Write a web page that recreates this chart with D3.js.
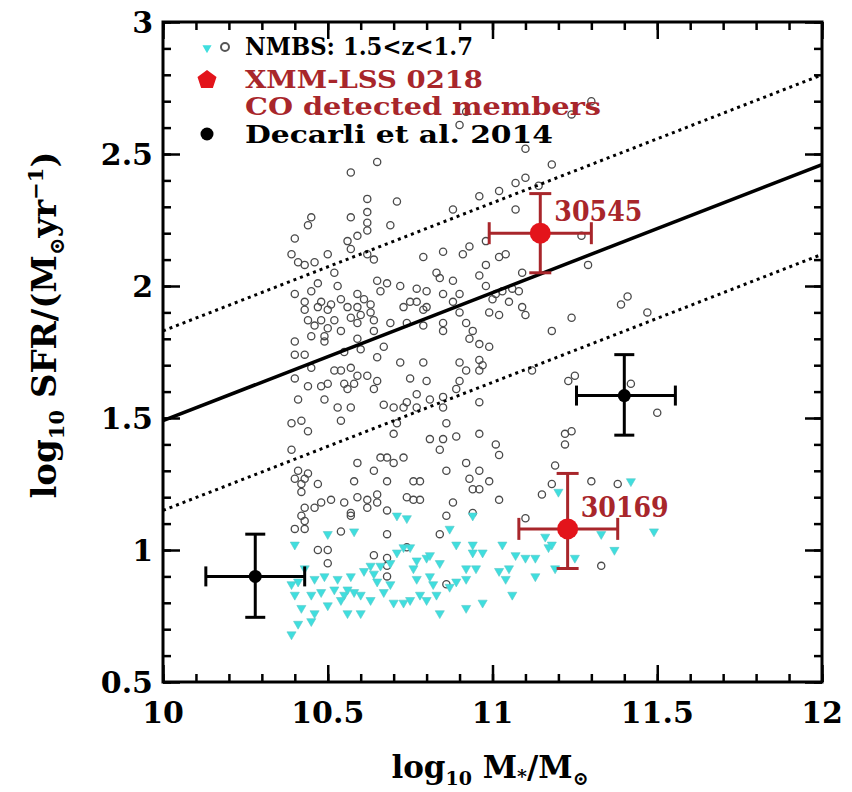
<!DOCTYPE html>
<html>
<head>
<meta charset="utf-8">
<script src="https://cdn.jsdelivr.net/npm/d3@7"></script>
<style>
  body { margin: 0; background: #fff; }
  text { font-family: "DejaVu Serif", "Liberation Serif", serif; font-weight: bold; }
</style>
</head>
<body>
<script>
// NMBS 1.5<z<1.7 galaxies, open grey circles (log M*, log SFR)
var nmbsCircles = [
  [10.62,2.33],[10.71,2.32],[10.62,2.28],[10.45,2.26],[10.57,2.26],[10.44,2.23],[10.62,2.24],[10.69,2.23],
  [10.40,2.18],[10.56,2.17],[10.59,2.19],[10.62,2.21],[10.50,2.12],[10.39,2.12],[10.57,2.14],[10.41,2.09],
  [10.43,2.08],[10.46,2.09],[10.62,2.12],[10.64,2.10],[10.52,2.05],[10.47,2.01],[10.40,1.97],[10.45,1.98],
  [10.53,2.00],[10.65,2.02],[10.68,2.01],[10.72,2.00],[10.43,1.94],[10.48,1.94],[10.51,1.93],[10.54,1.95],
  [10.59,1.97],[10.61,1.95],[10.66,1.98],[10.43,1.91],[10.47,1.92],[10.50,1.91],[10.56,1.92],[10.59,1.92],
  [10.63,1.93],[10.73,1.92],[10.44,1.87],[10.48,1.87],[10.52,1.87],[10.57,1.88],[10.60,1.89],[10.63,1.90],
  [10.46,1.85],[10.50,1.84],[10.54,1.83],[10.59,1.86],[10.64,1.87],[10.69,1.86],[10.45,1.81],[10.49,1.81],
  [10.64,1.83],[10.74,1.86],[10.40,1.79],[10.49,1.79],[10.59,1.80],[10.67,1.77],[10.40,1.74],[10.43,1.74],
  [10.55,1.75],[10.60,1.76],[10.65,1.73],[10.72,1.71],[10.57,2.43],[10.65,2.47],
  [10.92,2.66],[10.90,2.61],[11.10,2.52],[11.07,2.39],[11.10,2.41],[10.96,2.34],[11.02,2.36],[10.88,2.29],
  [11.07,2.29],[10.98,2.17],[10.79,2.11],[10.85,2.13],[10.91,2.12],[10.93,2.15],[11.02,2.11],[11.04,2.12],
  [10.98,2.08],[10.83,2.05],[10.84,2.03],[10.88,2.02],[10.96,2.04],[11.09,2.05],[10.77,1.99],[10.80,1.98],
  [10.85,1.97],[10.90,1.97],[10.98,2.00],[11.01,1.97],[11.03,1.98],[11.06,1.99],[11.08,1.98],[10.75,1.94],
  [10.77,1.94],[10.80,1.92],[10.88,1.94],[11.00,1.95],[11.05,1.94],[10.79,1.91],[10.90,1.90],[10.99,1.90],
  [11.02,1.89],[11.09,1.92],[11.10,1.89],[10.79,1.85],[10.85,1.86],[10.85,1.83],[10.92,1.86],[10.94,1.83],
  [10.93,1.80],[10.96,1.78],[10.99,1.77],[10.79,1.71],[10.90,1.71],[10.96,1.72],[11.14,2.38],
  [11.30,2.70],[11.24,2.65],[11.18,2.46],[11.27,2.19],[11.29,2.08],[11.41,1.96],[11.39,1.93],[11.24,1.88],
  [11.47,1.90],[11.18,1.83],
  [10.45,1.69],[10.52,1.68],[10.54,1.68],[10.57,1.69],[10.59,1.66],[10.62,1.66],[10.40,1.65],[10.44,1.62],
  [10.48,1.62],[10.50,1.63],[10.55,1.63],[10.56,1.61],[10.58,1.63],[10.65,1.64],[10.64,1.61],[10.41,1.57],
  [10.49,1.57],[10.53,1.54],[10.57,1.54],[10.67,1.55],[10.70,1.54],[10.73,1.54],[10.74,1.56],[10.39,1.48],
  [10.42,1.49],[10.54,1.49],[10.44,1.45],[10.71,1.48],[10.70,1.44],[10.39,1.38],[10.66,1.35],[10.68,1.35],
  [10.70,1.33],[10.73,1.35],[10.59,1.33],[10.64,1.30],[10.41,1.30],[10.44,1.29],[10.68,1.26],[10.58,1.26],
  [10.40,1.27],[10.43,1.27],[10.42,1.25],[10.47,1.25],[10.42,1.22],[10.48,1.18],[10.51,1.19],[10.55,1.18],
  [10.46,1.16],[10.59,1.20],[10.62,1.19],[10.65,1.21],[10.57,1.14],[10.57,1.13],[10.62,1.16],[10.65,1.18],
  [10.68,1.15],[10.43,1.16],[10.42,1.13],[10.43,1.11],[10.40,1.08],[10.43,1.08],[10.54,1.07],[10.68,1.06],
  [10.47,1.00],[10.50,1.00],[10.50,0.95],[10.64,0.98],[10.68,0.97],[10.68,0.94],[10.68,0.90],[10.74,1.01],
  [10.74,1.20],
  [10.75,1.65],[10.80,1.64],[10.77,1.59],[10.81,1.57],[10.85,1.58],[10.89,1.61],[10.90,1.64],[10.92,1.68],
  [10.96,1.68],[10.97,1.70],[11.12,1.68],[10.96,1.56],[10.77,1.54],[10.85,1.54],[10.86,1.48],[10.81,1.42],
  [10.85,1.42],[10.84,1.38],[10.89,1.43],[10.96,1.44],[11.01,1.40],[11.02,1.36],[10.92,1.33],[10.96,1.30],
  [10.86,1.30],[10.93,1.27],[10.99,1.26],[10.94,1.23],[10.96,1.23],[11.02,1.19],[10.88,1.18],[10.94,1.14],
  [10.76,1.26],[10.78,1.26],[10.76,1.19],[10.78,1.19],[10.86,1.13],[10.84,1.06],[10.86,0.87],[11.15,1.21],
  [11.18,1.25],[11.10,1.12],
  [11.23,1.64],[11.25,1.66],[11.42,1.63],[11.50,1.52],[11.22,1.44],[11.24,1.45],[11.22,1.40],[11.19,1.32],
  [11.30,1.26],[11.38,1.25],[11.33,0.94]
];

// NMBS galaxies shown as cyan down triangles (low SFR)
var nmbsTriangles = [
  [10.40,1.02],[10.43,0.93],[10.41,0.88],[10.46,0.89],[10.49,0.90],[10.53,0.89],[10.57,0.90],[10.61,0.92],
  [10.64,0.91],[10.66,0.94],[10.69,0.95],[10.71,0.99],[10.73,1.01],[10.50,1.06],[10.58,1.07],[10.71,1.13],
  [10.74,1.12],[10.39,0.87],[10.40,0.83],[10.45,0.83],[10.48,0.84],[10.52,0.85],[10.55,0.83],[10.58,0.84],
  [10.60,0.83],[10.63,0.81],[10.67,0.84],[10.69,0.87],[10.73,0.80],[10.42,0.78],[10.46,0.76],[10.50,0.79],
  [10.56,0.76],[10.60,0.76],[10.41,0.72],[10.45,0.73],[10.39,0.68],[10.70,0.80],[10.65,0.88],[10.63,0.94],
  [10.56,0.85],[10.54,0.81],
  [10.87,1.08],[10.75,1.01],[10.80,0.97],[10.77,0.96],[10.81,0.98],[10.84,0.95],[10.89,1.02],[10.94,1.02],
  [10.94,0.99],[10.97,0.99],[11.03,1.02],[11.07,0.98],[11.16,1.05],[11.17,1.01],[11.13,0.97],[11.10,0.97],
  [11.05,0.93],[11.02,0.92],[11.04,0.89],[11.06,0.83],[10.92,0.93],[10.95,0.93],[10.92,0.89],[10.89,0.88],
  [10.87,0.86],[10.81,0.90],[10.82,0.87],[10.77,0.89],[10.76,0.93],[10.75,0.81],[10.78,0.83],[10.80,0.81],
  [10.83,0.83],[10.84,0.76],[10.92,0.78],[10.97,0.80],[11.13,0.90],[10.94,1.13],
  [11.42,1.26],[11.20,1.22],[11.18,1.02],[11.33,1.06],[11.37,1.00],[11.49,1.07],[11.25,0.97],[11.19,0.93]
];

// main sequence fit and its scatter
var fitX = [10, 12];
var fitMain = [1.49, 2.46];
var fitUpper = [1.83, 2.80];
var fitLower = [1.15, 2.12];

// XMM-LSS 0218 CO detected members
var coIds = ["30545", "30169"];
var coMass = [11.145, 11.228];
var coMassLo = [10.99, 11.08];
var coMassHi = [11.30, 11.38];
var coSfr = [2.20, 1.08];
var coSfrLo = [2.05, 0.93];
var coSfrHi = [2.35, 1.29];

// Decarli et al. 2014
var decMass = [10.28, 11.40];
var decMassLo = [10.13, 11.255];
var decMassHi = [10.43, 11.555];
var decSfr = [0.90, 1.585];
var decSfrLo = [0.745, 1.435];
var decSfrHi = [1.06, 1.74];

var xTicks = [10, 10.5, 11, 11.5, 12];
var yTicks = [0.5, 1, 1.5, 2, 2.5, 3];

var W = 852, H = 792;
var box = {l: 163, r: 822, t: 22, b: 682};
var darkRed = "#a8262b";

var svg = d3.select("body").append("svg")
    .attr("width", W)
    .attr("height", H);

var x = d3.scaleLinear().domain([10, 12]).range([box.l, box.r]);
var y = d3.scaleLinear().domain([0.5, 3]).range([box.b, box.t]);

var plot = svg.append("g");

// clip so the fit lines stay in the box
svg.append("clipPath").attr("id", "box")
  .append("rect").attr("x", box.l).attr("y", box.t).attr("width", box.r - box.l).attr("height", box.b - box.t);

plot.selectAll("circle.nmbs")
    .data(nmbsCircles)
    .enter()
    .append("circle")
    .attr("class", "nmbs")
    .attr("cx", function(d){ return x(d[0]); })
    .attr("cy", function(d){ return y(d[1]); })
    .attr("r", 3.6)
    .attr("fill", "none")
    .attr("stroke", "#4a4a4a")
    .attr("stroke-width", 1.3);

var tri = d3.symbol().type(d3.symbolTriangle).size(36);
plot.selectAll("path.tri")
    .data(nmbsTriangles)
    .enter()
    .append("path")
    .attr("class", "tri")
    .attr("d", tri)
    .attr("transform", function(d){ return "translate(" + x(d[0]) + "," + y(d[1]) + ") rotate(180)"; })
    .attr("fill", "#3fdede")
    .attr("stroke", "#5bc8c8")
    .attr("stroke-width", 0.6);

// fit lines
var line = d3.line()
    .x(function(d){ return x(d[0]); })
    .y(function(d){ return y(d[1]); });

var fits = [
  {v: fitUpper, dash: "3,4", w: 3},
  {v: fitMain, dash: null, w: 3.5},
  {v: fitLower, dash: "3,4", w: 3}
];
plot.selectAll("path.fit")
    .data(fits)
    .enter()
    .append("path")
    .attr("class", "fit")
    .attr("clip-path", "url(#box)")
    .attr("d", function(f){ return line(fitX.map(function(m, i){ return [m, f.v[i]]; })); })
    .attr("fill", "none")
    .attr("stroke", "#000")
    .attr("stroke-width", function(f){ return f.w; })
    .attr("stroke-dasharray", function(f){ return f.dash; });

// error bar points
function errPoints(ids, mx, mlo, mhi, sf, slo, shi, color, dotColor, r, cap) {
  var pts = mx.map(function(m, i){
    return {id: ids ? ids[i] : null, m: m, mlo: mlo[i], mhi: mhi[i], s: sf[i], slo: slo[i], shi: shi[i]};
  });
  var g = plot.selectAll(null).data(pts).enter().append("g");
  g.append("line")
    .attr("x1", function(d){ return x(d.mlo); }).attr("x2", function(d){ return x(d.mhi); })
    .attr("y1", function(d){ return y(d.s); }).attr("y2", function(d){ return y(d.s); });
  g.append("line")
    .attr("x1", function(d){ return x(d.m); }).attr("x2", function(d){ return x(d.m); })
    .attr("y1", function(d){ return y(d.slo); }).attr("y2", function(d){ return y(d.shi); });
  // caps
  g.append("line")
    .attr("x1", function(d){ return x(d.mlo); }).attr("x2", function(d){ return x(d.mlo); })
    .attr("y1", function(d){ return y(d.s) - cap; }).attr("y2", function(d){ return y(d.s) + cap; });
  g.append("line")
    .attr("x1", function(d){ return x(d.mhi); }).attr("x2", function(d){ return x(d.mhi); })
    .attr("y1", function(d){ return y(d.s) - cap; }).attr("y2", function(d){ return y(d.s) + cap; });
  g.append("line")
    .attr("x1", function(d){ return x(d.m) - cap; }).attr("x2", function(d){ return x(d.m) + cap; })
    .attr("y1", function(d){ return y(d.slo); }).attr("y2", function(d){ return y(d.slo); });
  g.append("line")
    .attr("x1", function(d){ return x(d.m) - cap; }).attr("x2", function(d){ return x(d.m) + cap; })
    .attr("y1", function(d){ return y(d.shi); }).attr("y2", function(d){ return y(d.shi); });
  g.selectAll("line").attr("stroke", color).attr("stroke-width", 3);
  g.append("circle")
    .attr("cx", function(d){ return x(d.m); })
    .attr("cy", function(d){ return y(d.s); })
    .attr("r", r)
    .attr("fill", dotColor);
  return g;
}

errPoints(null, decMass, decMassLo, decMassHi, decSfr, decSfrLo, decSfrHi, "#000", "#000", 6.5, 10);
var co = errPoints(coIds, coMass, coMassLo, coMassHi, coSfr, coSfrLo, coSfrHi, darkRed, "#e3141b", 10.5, 11);
co.append("text")
    .attr("x", function(d){ return x(d.mhi) - 37; })
    .attr("y", function(d){ return y(d.s) - 12; })
    .attr("text-anchor", "start")
    .attr("fill", darkRed)
    .attr("font-size", 27)
    .attr("textLength", 88)
    .attr("lengthAdjust", "spacingAndGlyphs")
    .text(function(d){ return d.id; });

// axes with inward ticks on all sides
function minorTicks(a, b) {
  return d3.range(Math.round(a * 10), Math.round(b * 10) + 1).map(function(v){ return v / 10; });
}
var xMinor = minorTicks(10, 12), yMinor = minorTicks(0.5, 3);

function drawAxis(axis, tr) {
  var g = svg.append("g").attr("transform", tr).call(axis);
  g.select(".domain").remove();
  g.selectAll(".tick line").attr("stroke", "#000").attr("stroke-width", 2.5);
  return g;
}
drawAxis(d3.axisBottom(x).tickValues(xMinor).tickSize(-8).tickFormat(""), "translate(0," + box.b + ")");
drawAxis(d3.axisBottom(x).tickValues(xTicks).tickSize(-17).tickFormat(""), "translate(0," + box.b + ")");
drawAxis(d3.axisTop(x).tickValues(xMinor).tickSize(-8).tickFormat(""), "translate(0," + box.t + ")");
drawAxis(d3.axisTop(x).tickValues(xTicks).tickSize(-17).tickFormat(""), "translate(0," + box.t + ")");
drawAxis(d3.axisLeft(y).tickValues(yMinor).tickSize(-8).tickFormat(""), "translate(" + box.l + ",0)");
drawAxis(d3.axisLeft(y).tickValues(yTicks).tickSize(-17).tickFormat(""), "translate(" + box.l + ",0)");
drawAxis(d3.axisRight(y).tickValues(yMinor).tickSize(-8).tickFormat(""), "translate(" + box.r + ",0)");
drawAxis(d3.axisRight(y).tickValues(yTicks).tickSize(-17).tickFormat(""), "translate(" + box.r + ",0)");

svg.append("rect")
    .attr("x", box.l).attr("y", box.t)
    .attr("width", box.r - box.l).attr("height", box.b - box.t)
    .attr("fill", "none").attr("stroke", "#000").attr("stroke-width", 3);

// tick labels
svg.selectAll("text.xl")
    .data(xTicks)
    .enter()
    .append("text")
    .attr("class", "xl")
    .attr("x", function(d){ return x(d); })
    .attr("y", box.b + 41)
    .attr("text-anchor", "middle")
    .attr("font-size", 30)
    .text(function(d){ return d; });

svg.selectAll("text.yl")
    .data(yTicks)
    .enter()
    .append("text")
    .attr("class", "yl")
    .attr("x", box.l - 10)
    .attr("y", function(d){ return y(d) + 11; })
    .attr("text-anchor", "end")
    .attr("font-size", 30)
    .text(function(d){ return d; });

// axis titles
var xt = svg.append("text")
    .attr("x", 490).attr("y", 778)
    .attr("text-anchor", "middle")
    .attr("font-size", 31);
xt.append("tspan").text("log");
xt.append("tspan").attr("font-size", 19).attr("dy", 7).text("10");
xt.append("tspan").attr("dy", -7).text(" M");
xt.append("tspan").attr("font-size", 19).attr("dy", 5).text("*");
xt.append("tspan").attr("dy", -5).text("/M");
xt.append("tspan").attr("font-size", 19).attr("dy", 7).text("⊙");

var yt = svg.append("text")
    .attr("transform", "translate(56,325) rotate(-90)")
    .attr("text-anchor", "middle")
    .attr("font-size", 34);
yt.append("tspan").text("log");
yt.append("tspan").attr("font-size", 21).attr("dy", 8).text("10");
yt.append("tspan").attr("dy", -8).text(" SFR/(M");
yt.append("tspan").attr("font-size", 21).attr("dy", 8).text("⊙");
yt.append("tspan").attr("dy", -8).text("yr");
yt.append("tspan").attr("font-size", 21).attr("dy", -13).text("−1");
yt.append("tspan").attr("dy", 13).text(")");

// legend
var lg = svg.append("g");
lg.append("path")
    .attr("d", tri)
    .attr("transform", "translate(207,48) rotate(180)")
    .attr("fill", "#3fdede");
lg.append("circle")
    .attr("cx", 225).attr("cy", 47).attr("r", 4)
    .attr("fill", "none").attr("stroke", "#555").attr("stroke-width", 2);
var pent = d3.range(5).map(function(i){
  var a = -Math.PI / 2 + i * 2 * Math.PI / 5;
  return [207 + 10 * Math.cos(a), 80 + 10 * Math.sin(a)];
});
lg.append("path")
    .attr("d", "M" + pent.join("L") + "Z")
    .attr("fill", "#e3141b");
lg.append("circle")
    .attr("cx", 207).attr("cy", 134).attr("r", 6.5)
    .attr("fill", "#000");

var legendText = [
  {t: "NMBS: 1.5<z<1.7", y: 55, c: "#000", w: 228},
  {t: "XMM-LSS 0218", y: 88, c: darkRed, w: 238},
  {t: "CO detected members", y: 115, c: darkRed, w: 356},
  {t: "Decarli et al. 2014", y: 143, c: "#000", w: 308}
];
lg.selectAll("text")
    .data(legendText)
    .enter()
    .append("text")
    .attr("x", 245)
    .attr("y", function(d){ return d.y; })
    .attr("fill", function(d){ return d.c; })
    .attr("font-size", 24)
    .attr("textLength", function(d){ return d.w; })
    .attr("lengthAdjust", "spacingAndGlyphs")
    .text(function(d){ return d.t; });
</script>
</body>
</html>
